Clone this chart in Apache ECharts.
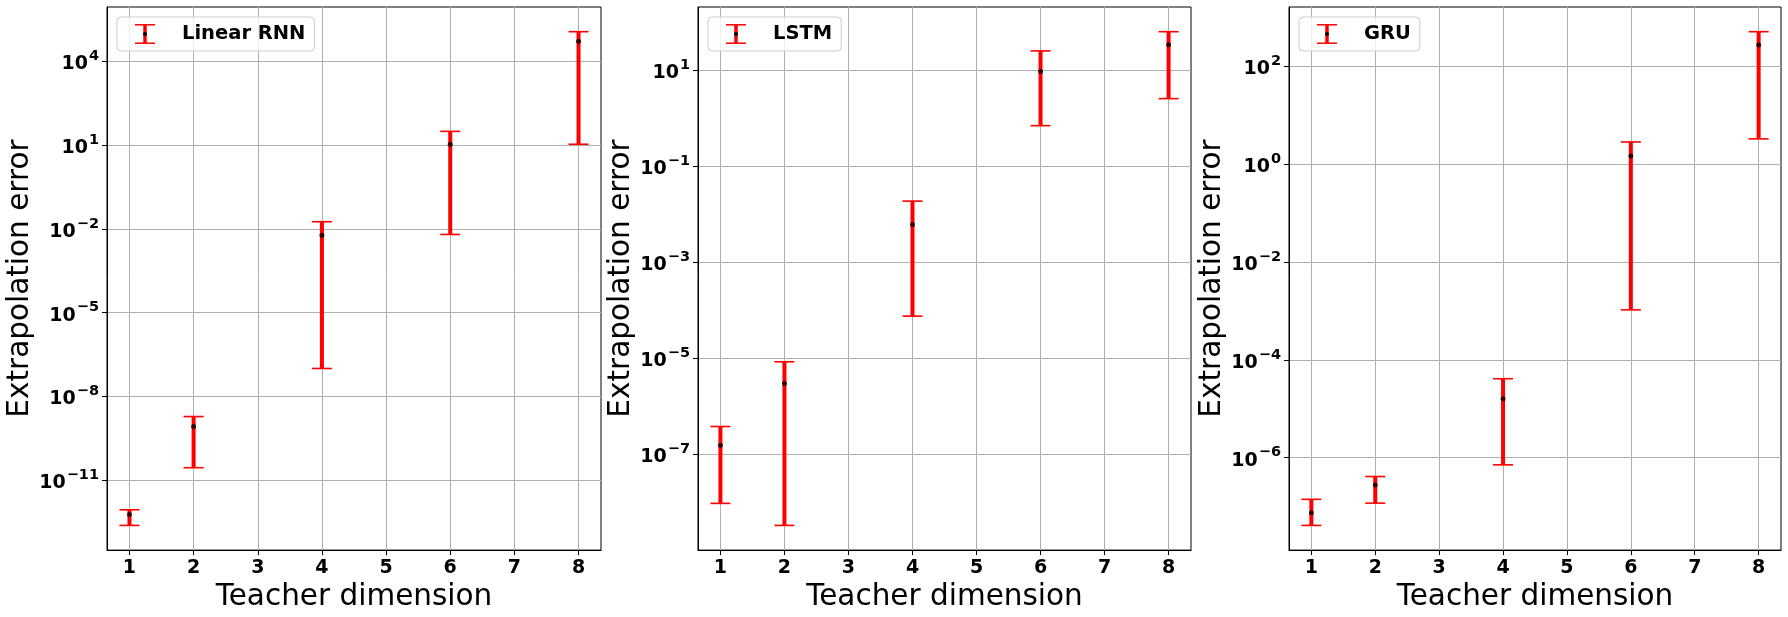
<!DOCTYPE html>
<html>
<head>
<meta charset="utf-8">
<script src="https://cdn.jsdelivr.net/npm/echarts@6/dist/echarts.min.js"></script>
<style>
  html, body { margin: 0; padding: 0; background: #fff; }
  #chart { width: 1788px; height: 617px; }
</style>
</head>
<body>
<div id="chart"></div>
<script>
// teacher dimensions used on the x axis
const dims = [1, 2, 4, 6, 8]
const xTicks = [1, 2, 3, 4, 5, 6, 7, 8]

// Linear RNN
const linMean = [5.9e-13, 8.3e-10, 5.9e-3, 10.7, 5.2e4]
const linLow = [2.4e-13, 2.8e-11, 1.0e-7, 6.3e-3, 10.7]
const linHigh = [8.7e-13, 1.9e-9, 1.8e-2, 31, 1.15e5]
const linTicks = [-11, -8, -5, -2, 1, 4]

// LSTM
const lstmMean = [1.55e-7, 3.0e-6, 6.2e-3, 9.5, 34.7]
const lstmLow = [9.5e-9, 3.3e-9, 7.6e-5, 0.71, 2.6]
const lstmHigh = [3.8e-7, 8.5e-6, 1.9e-2, 25.7, 64.6]
const lstmTicks = [-7, -5, -3, -1, 1]

// GRU
const gruMean = [7.4e-8, 2.75e-7, 1.6e-5, 1.48, 275]
const gruLow = [4.1e-8, 1.17e-7, 7.1e-7, 1.05e-3, 3.3]
const gruHigh = [1.4e-7, 4.1e-7, 4.1e-5, 2.85, 513]
const gruTicks = [-6, -4, -2, 0, 2]

const FONT = 'DejaVu Sans'
const panels = [
  { name: 'Linear RNN', mean: linMean, low: linLow, high: linHigh, ticks: linTicks, left: 107, width: 494, nameGap: 70 },
  { name: 'LSTM', mean: lstmMean, low: lstmLow, high: lstmHigh, ticks: lstmTicks, left: 698, width: 493, nameGap: 61 },
  { name: 'GRU', mean: gruMean, low: gruLow, high: gruHigh, ticks: gruTicks, left: 1289, width: 492, nameGap: 62 },
]

const iconSvg =
  "<svg xmlns='http://www.w3.org/2000/svg' width='40' height='20' viewBox='0 0 40 20'>" +
  "<line x1='20' y1='1' x2='20' y2='19' stroke='#ff0000' stroke-width='3.5'/>" +
  "<line x1='10' y1='0.8' x2='30' y2='0.8' stroke='#ff0000' stroke-width='1.5'/>" +
  "<line x1='10' y1='19.2' x2='30' y2='19.2' stroke='#ff0000' stroke-width='1.5'/>" +
  "<circle cx='20' cy='10' r='2' fill='#000'/></svg>"
const legendIcon = 'image://data:image/svg+xml;charset=utf-8,' + encodeURIComponent(iconSvg)

const log10 = (v) => Math.log10(v)
const supLabel = (v) => {
  const n = Math.round(v)
  const s = n < 0 ? '\u2212' + Math.abs(n) : '' + n
  return '{b|10}{s|' + s + '}'
}

const errorRender = (params, api) => {
  const x = api.value(0)
  const lo = api.coord([x, api.value(1)])
  const hi = api.coord([x, api.value(2)])
  const cap = 10
  const red = '#ff0000'
  return {
    type: 'group',
    children: [
      { type: 'line', shape: { x1: lo[0], y1: lo[1], x2: hi[0], y2: hi[1] }, style: { stroke: red, lineWidth: 4 } },
      { type: 'line', shape: { x1: hi[0] - cap, y1: hi[1], x2: hi[0] + cap, y2: hi[1] }, style: { stroke: red, lineWidth: 1.6 } },
      { type: 'line', shape: { x1: lo[0] - cap, y1: lo[1], x2: lo[0] + cap, y2: lo[1] }, style: { stroke: red, lineWidth: 1.6 } },
    ],
  }
}

const grids = [], xAxes = [], yAxes = [], series = [], legends = []
panels.forEach((p, i) => {
  const lows = p.low.map(log10), highs = p.high.map(log10)
  const lo = Math.min(...lows), hi = Math.max(...highs)
  const pad = (hi - lo) * 0.05

  grids.push({
    left: p.left, top: 7, width: p.width, height: 544,
    show: true, borderColor: '#000', borderWidth: 1, backgroundColor: 'transparent',
  })
  xAxes.push({
    type: 'value', gridIndex: i, min: 0.65, max: 8.35,
    name: 'Teacher dimension', nameLocation: 'middle', nameGap: 23,
    nameTextStyle: { fontFamily: FONT, fontSize: 29.5, color: '#000' },
    axisLine: { show: true, onZero: false, lineStyle: { color: '#000', width: 1 } },
    axisTick: { show: true, length: 5, customValues: xTicks, lineStyle: { color: '#000', width: 1 } },
    axisLabel: {
      customValues: xTicks, margin: 8, color: '#000',
      fontFamily: FONT, fontSize: 19, fontWeight: 'bold',
      formatter: (v) => '' + Math.round(v),
    },
    splitLine: { show: true, lineStyle: { color: '#b0b0b0', width: 1 } },
  })
  yAxes.push({
    type: 'value', gridIndex: i, min: lo - pad, max: hi + pad,
    name: 'Extrapolation error', nameLocation: 'middle', nameGap: p.nameGap,
    nameTextStyle: { fontFamily: FONT, fontSize: 29.5, color: '#000' },
    axisLine: { show: true, onZero: false, lineStyle: { color: '#000', width: 1 } },
    axisTick: { show: true, length: 5, customValues: p.ticks, lineStyle: { color: '#000', width: 1 } },
    axisLabel: {
      customValues: p.ticks, margin: 8, color: '#000',
      formatter: supLabel,
      rich: {
        b: { fontFamily: FONT, fontSize: 19, fontWeight: 'bold', color: '#000', lineHeight: 25, verticalAlign: 'bottom' },
        s: { fontFamily: FONT, fontSize: 14.5, fontWeight: 'bold', color: '#000', lineHeight: 15, verticalAlign: 'top', padding: [0, 0, 0, 1] },
      },
    },
    splitLine: { show: true, lineStyle: { color: '#b0b0b0', width: 1 } },
  })
  series.push({
    type: 'custom', name: p.name, xAxisIndex: i, yAxisIndex: i,
    renderItem: errorRender, itemStyle: { color: '#ff0000' },
    encode: { x: 0, y: [1, 2] },
    data: dims.map((d, k) => [d, lows[k], highs[k]]),
    z: 2, silent: true,
  })
  series.push({
    type: 'scatter', name: p.name + ' mean', xAxisIndex: i, yAxisIndex: i,
    symbol: 'circle', symbolSize: 5, itemStyle: { color: '#000' },
    data: dims.map((d, k) => [d, log10(p.mean[k])]),
    z: 3, silent: true,
  })
  legends.push({
    data: [{ name: p.name, icon: legendIcon }],
    left: p.left + 10, top: 17, orient: 'vertical',
    selectedMode: false,
    itemWidth: 40, itemHeight: 20,
    padding: [7, 9, 7, 8],
    backgroundColor: 'rgba(255,255,255,0.8)', borderColor: '#cccccc', borderWidth: 1, borderRadius: 4,
    textStyle: { fontFamily: FONT, fontSize: 19.5, fontWeight: 'bold', color: '#000', padding: [0, 0, 0, 12] },
  })
})

const chart = echarts.init(document.getElementById('chart'), null, { renderer: 'canvas' })
chart.setOption({
  backgroundColor: '#fff',
  animation: false,
  textStyle: { fontFamily: FONT },
  grid: grids,
  xAxis: xAxes,
  yAxis: yAxes,
  legend: legends,
  series: series,
})
</script>
</body>
</html>
